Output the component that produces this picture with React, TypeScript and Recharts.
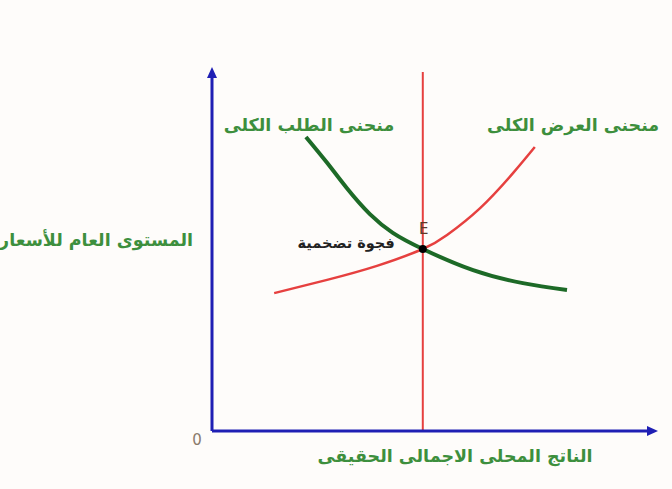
import { LineChart, Line, XAxis, YAxis, ReferenceLine, ReferenceDot } from 'recharts';

// aggregate supply (red) and aggregate demand (green)
const supplyX = [14.1, 26.1, 37.4, 47.8, 53.3, 60.8, 68.3, 73.2];
const supplyY = [38.4, 42.1, 46.0, 50.7, 54.6, 62.1, 71.9, 79.1];
const demandX = [21.3, 26.1, 30.6, 35.8, 41.0, 47.8, 59.2, 70.5, 80.5];
const demandY = [81.9, 74.7, 67.6, 60.4, 55.2, 50.7, 44.8, 41.2, 39.3];
const potentialGdp = 47.8;
const equilibrium = { x: 47.8, y: 50.7 };

const supplyData = supplyX.map((x, i) => ({ x, y: supplyY[i] }));
const demandData = demandX.map((x, i) => ({ x, y: demandY[i] }));

const BLUE = '#1f1fb4';
const RED = '#e6403f';
const GREEN = '#1d6a27';
const LABEL_GREEN = '#3d8f3d';
const FONT = 'DejaVu Sans';

const textShape = (text: string, color: string, size: number, dx = 0, dy = 0, anchor = 'middle', weight = 'bold') =>
  (props: any) => (
    <text
      x={props.cx + dx}
      y={props.cy + dy}
      fill={color}
      fontSize={size}
      fontFamily={FONT}
      fontWeight={weight}
      textAnchor={anchor}
      dominantBaseline='central'
    >{text}</text>
  );

const arrowUp = (props: any) => (
  <polygon points={`${props.cx - 5},${props.cy + 6} ${props.cx + 5},${props.cy + 6} ${props.cx},${props.cy - 5}`} fill={BLUE} />
);
const arrowRight = (props: any) => (
  <polygon points={`${props.cx - 6},${props.cy - 5} ${props.cx - 6},${props.cy + 5} ${props.cx + 5},${props.cy}`} fill={BLUE} />
);

export default function App() {
  return (
    <div style={{ position: 'absolute', left: 0, top: 0, width: 672, height: 489, background: '#fefcfa', overflow: 'hidden' }}>
      <LineChart width={672} height={489} margin={{ top: 72, right: 19, bottom: 8, left: 12 }}>
        <XAxis
          type='number'
          dataKey='x'
          domain={[0, 100]}
          allowDataOverflow
          tick={false}
          tickLine={false}
          axisLine={{ stroke: BLUE, strokeWidth: 3 }}
          height={50}
          label={{
            content: ({ viewBox }: any) => (
              <text
                x={viewBox.x + 243}
                y={viewBox.y + 25}
                fill={LABEL_GREEN}
                fontSize={17.5}
                fontFamily={FONT}
                fontWeight='bold'
                textAnchor='middle'
                dominantBaseline='central'
              >الناتج المحلى الاجمالى الحقيقى</text>
            ),
          }}
        />
        <YAxis
          type='number'
          domain={[0, 100]}
          allowDataOverflow
          tick={false}
          tickLine={false}
          axisLine={{ stroke: BLUE, strokeWidth: 3 }}
          width={200}
          label={{
            content: () => (
              <text
                x={193}
                y={240}
                fill={LABEL_GREEN}
                fontSize={17.5}
                fontFamily={FONT}
                fontWeight='bold'
                textAnchor='end'
                dominantBaseline='central'
              >المستوى العام للأسعار</text>
            ),
          }}
        />
        <ReferenceLine x={potentialGdp} stroke={RED} strokeWidth={2} ifOverflow='visible' />
        <Line
          data={supplyData}
          dataKey='y'
          type='natural'
          stroke={RED}
          strokeWidth={2.5}
          dot={false}
          isAnimationActive={false}
        />
        <Line
          data={demandData}
          dataKey='y'
          type='natural'
          stroke={GREEN}
          strokeWidth={4}
          dot={false}
          isAnimationActive={false}
        />
        <ReferenceDot x={equilibrium.x} y={equilibrium.y} r={4} fill='#000' stroke='none' />
        <ReferenceDot x={equilibrium.x} y={equilibrium.y} ifOverflow='visible' shape={textShape('E', '#5a3a2a', 15, 1, -20, 'middle', 'normal')} />
        <ReferenceDot x={equilibrium.x} y={equilibrium.y} ifOverflow='visible' shape={textShape('فجوة تضخمية', '#222', 14.5, -28, -6, 'end')} />
        <ReferenceDot x={22} y={85.2} ifOverflow='visible' shape={textShape('منحنى الطلب الكلى', LABEL_GREEN, 17.5)} />
        <ReferenceDot x={81.9} y={85.2} ifOverflow='visible' shape={textShape('منحنى العرض الكلى', LABEL_GREEN, 17.5)} />
        <ReferenceDot x={0} y={0} ifOverflow='visible' shape={textShape('0', '#8a7a6c', 15, -15, 9, 'middle', 'normal')} />
        <ReferenceDot x={0} y={100} ifOverflow='visible' shape={arrowUp} />
        <ReferenceDot x={100} y={0} ifOverflow='visible' shape={arrowRight} />
      </LineChart>
    </div>
  );
}
